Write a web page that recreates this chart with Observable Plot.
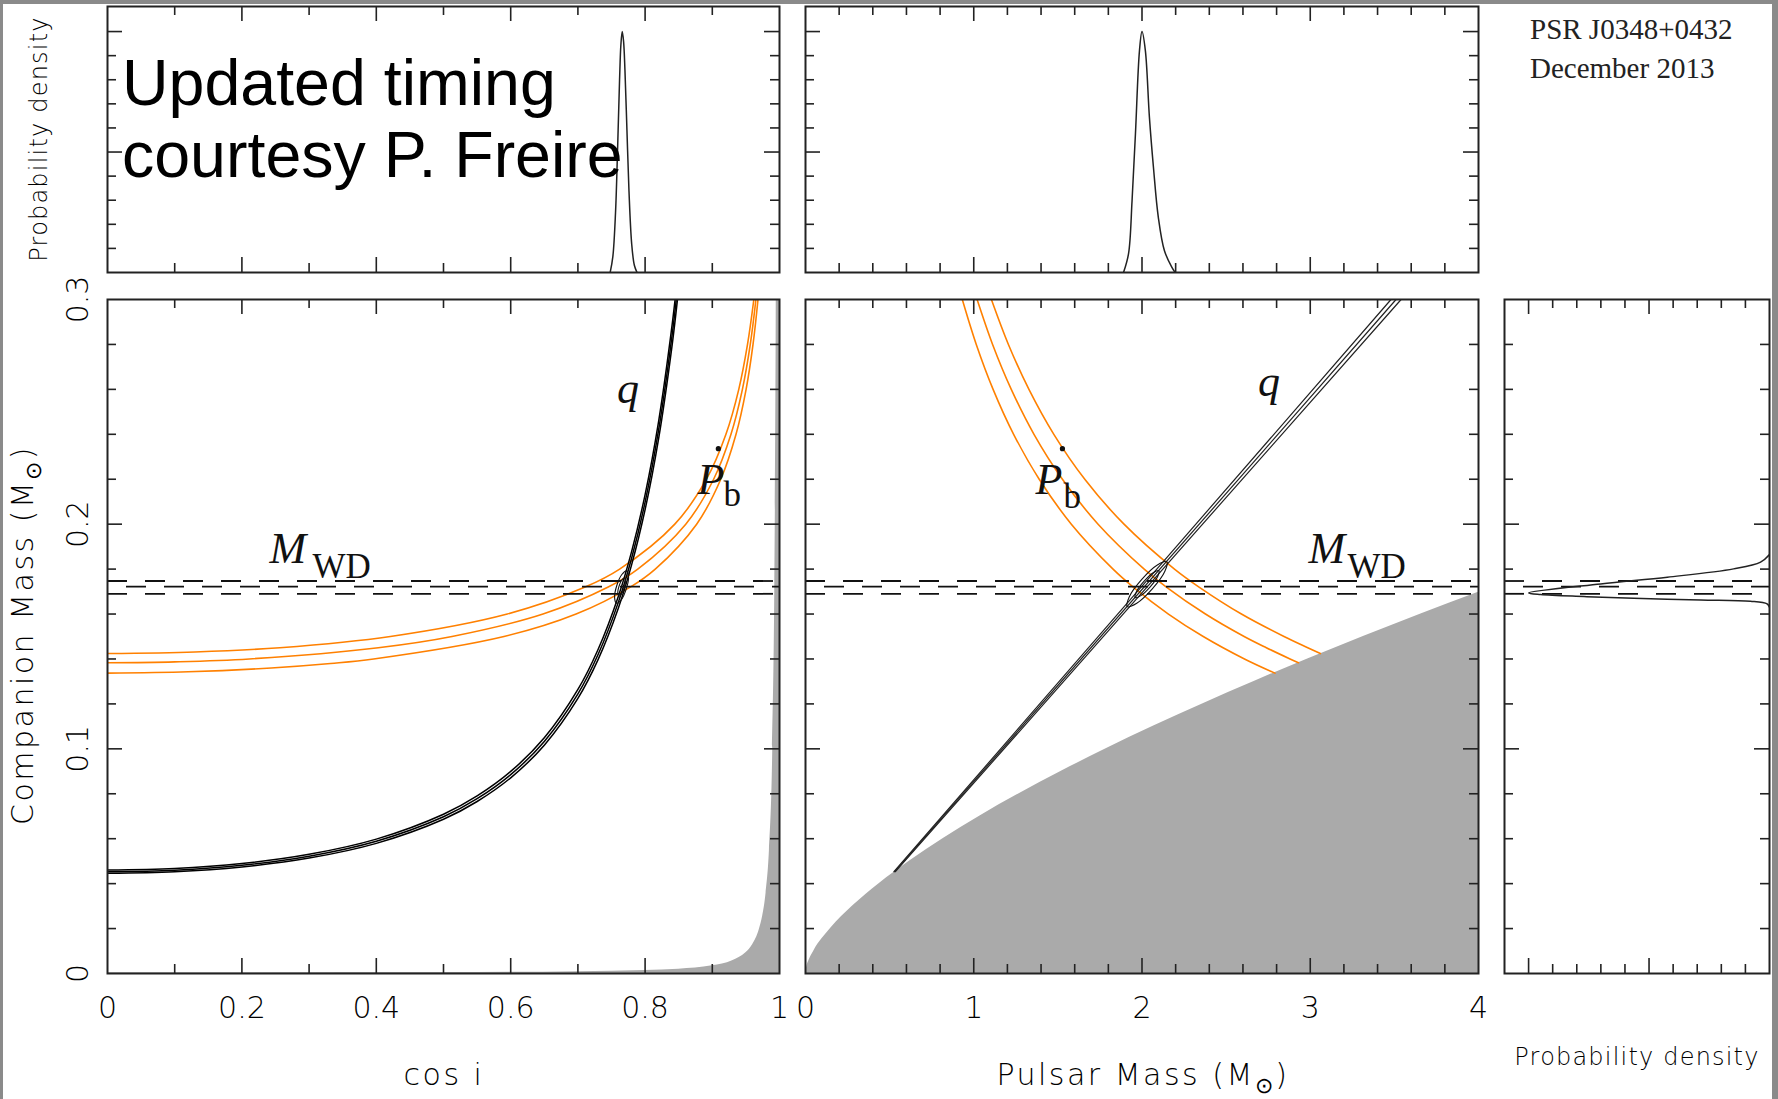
<!DOCTYPE html>
<html>
<head>
<meta charset="utf-8">
<script src="https://cdn.jsdelivr.net/npm/d3@7"></script>
<script src="https://cdn.jsdelivr.net/npm/@observablehq/plot@0.6"></script>
<style>
  html, body { margin: 0; padding: 0; background: #fff; }
  #wrap { position: relative; width: 1778px; height: 1099px; overflow: hidden; background: #fff; }
  .pane { position: absolute; }
  .pane svg { overflow: visible; background: transparent; }
  g[aria-label="ticklabel"] text { letter-spacing: 2.5px; }
  .edge { position: absolute; background: #8a8a8a; }
</style>
</head>
<body>
<div id="wrap"></div>
<script>
// ================= DATA =================
// Tick values and labels
const cosTickVals = [0, 0.2, 0.4, 0.6, 0.8, 1];
const cosTickLabels = ["0", "0.2", "0.4", "0.6", "0.8", "1"];
const mpTickVals = [0, 1, 2, 3, 4];
const mpTickLabels = ["0", "1", "2", "3", "4"];
const mcTickVals = [0, 0.1, 0.2, 0.3];
const mcTickLabels = ["0", "0.1", "0.2", "0.3"];

const cosMinor = [0.1, 0.3, 0.5, 0.7, 0.9];
const cosMajor = [0.2, 0.4, 0.6, 0.8];
const mpMinor = [0.2, 0.4, 0.6, 0.8, 1.2, 1.4, 1.6, 1.8, 2.2, 2.4, 2.6, 2.8, 3.2, 3.4, 3.6, 3.8];
const mpMajor = [1, 2, 3];
const mcMinor = [0.02, 0.04, 0.06, 0.08, 0.12, 0.14, 0.16, 0.18, 0.22, 0.24, 0.26, 0.28];
const mcMajor = [0.1, 0.2];
const pdfMinor = [0.1, 0.2, 0.3, 0.4, 0.6, 0.7, 0.8, 0.9];
const pdfMajor = [0.5, 1.0];

// Top-left: probability density of cos i
const cosiPdfX = [0.748, 0.752, 0.756, 0.759, 0.762, 0.764, 0.766, 0.768, 0.770, 0.773, 0.776, 0.780, 0.784, 0.788];
const cosiPdfY = [0, 0.066, 0.249, 0.506, 0.80, 0.946, 1.0, 0.958, 0.841, 0.589, 0.339, 0.12, 0.03, 0];

// Top-middle: probability density of pulsar mass
const mpPdfX = [1.89, 1.92, 1.941, 1.961, 1.985, 2.0, 2.02, 2.044, 2.068, 2.097, 2.133, 2.177, 2.197];
const mpPdfY = [0, 0.078, 0.299, 0.575, 0.921, 1.0, 0.921, 0.645, 0.437, 0.229, 0.091, 0.022, 0];

// Right: probability density of companion mass (density, Mc)
const mcPdfD = [0, 0.037, 0.149, 0.424, 0.701, 1.0, 0.95, 0.77, 0.564, 0.286, 0.079, 0.01, 0];
const mcPdfM = [0.1865, 0.1831, 0.1801, 0.1764, 0.1734, 0.1694, 0.1687, 0.1678, 0.1670, 0.1663, 0.1657, 0.1645, 0.163];

// White-dwarf mass (optical) : value and 1-sigma limits
const mwdLevels = [0.1747, 0.1722, 0.1690];

// Left panel: mass-ratio (q) curve, cos i vs companion mass
const qCos = [0, 0.1, 0.2, 0.3, 0.4, 0.5, 0.55, 0.6, 0.65, 0.7, 0.73, 0.76, 0.78, 0.8, 0.82, 0.84, 0.849];
const qMc   = [0.04532, 0.04601, 0.04818, 0.05221, 0.05887, 0.06977, 0.0778, 0.08852, 0.10327, 0.12443, 0.14196, 0.16508, 0.18494, 0.20981, 0.2417, 0.2837, 0.3072];
const qMcLo = [0.04460, 0.04527, 0.04741, 0.05137, 0.05793, 0.06865, 0.07656, 0.08710, 0.10162, 0.12244, 0.13969, 0.16244, 0.18198, 0.20645, 0.23783, 0.27916, 0.3023];
const qMcHi = [0.04605, 0.04675, 0.04895, 0.05305, 0.05981, 0.07089, 0.07904, 0.08994, 0.10492, 0.12642, 0.14423, 0.16772, 0.18790, 0.21317, 0.24557, 0.28824, 0.3121];

// Left panel: orbital decay (Pb-dot) curves
const pbL1Cos = [0, 0.12, 0.2436, 0.332, 0.396, 0.59, 0.6973, 0.7779, 0.8151, 0.8767, 0.9126, 0.9353, 0.9503, 0.9606, 0.968];
const pbL1Mc  = [0.1337, 0.1343, 0.136, 0.138, 0.14, 0.15, 0.16, 0.172, 0.18, 0.20, 0.22, 0.24, 0.26, 0.28, 0.30];
const pbL2Cos = [0, 0.1, 0.2111, 0.403, 0.5127, 0.6481, 0.7451, 0.7891, 0.8605, 0.902, 0.9278, 0.9448, 0.9565, 0.9649];
const pbL2Mc  = [0.1383, 0.1387, 0.14, 0.145, 0.15, 0.16, 0.172, 0.18, 0.20, 0.22, 0.24, 0.26, 0.28, 0.30];
const pbL3Cos = [0, 0.13, 0.2564, 0.4209, 0.5949, 0.7107, 0.7621, 0.8442, 0.8913, 0.9203, 0.9394, 0.9524, 0.9618];
const pbL3Mc  = [0.1424, 0.1431, 0.145, 0.15, 0.16, 0.172, 0.18, 0.20, 0.22, 0.24, 0.26, 0.28, 0.30];

// Left panel: excluded region (grey)
const greyLCos = [0, 0.5, 0.7, 0.8, 0.85, 0.9, 0.93, 0.95, 0.96, 0.97, 0.975, 0.98, 0.985, 0.99, 0.993, 0.995, 0.9955, 1.0];
const greyLMc  = [0.0003, 0.0004, 0.0008, 0.0013, 0.0019, 0.0034, 0.0057, 0.0092, 0.0128, 0.0196, 0.0256, 0.0357, 0.0547, 0.1001, 0.1705, 0.282, 0.33, 0.33];

// Left panel: probability contours
const contLOutCos = [0.7726, 0.7754, 0.7721, 0.7647, 0.7574, 0.7546, 0.7579, 0.7654];
const contLOutMc  = [0.1792, 0.1766, 0.1713, 0.1664, 0.1648, 0.1674, 0.1727, 0.1776];
const contLInCos  = [0.7692, 0.7707, 0.7689, 0.7648, 0.7608, 0.7593, 0.7611, 0.7652];
const contLInMc   = [0.1760, 0.1745, 0.1717, 0.1689, 0.1680, 0.1695, 0.1723, 0.1751];

// Middle panel: Pb-dot curves (pulsar mass, companion mass)
const pbM1Mp = [0.932, 1.015, 1.115, 1.237, 1.389, 1.58, 1.828, 1.948, 2.157, 2.364, 2.609, 2.79];
const pbM1Mc = [0.30, 0.28, 0.26, 0.24, 0.22, 0.20, 0.18, 0.172, 0.16, 0.15, 0.14, 0.1337];
const pbM2Mp = [1.02, 1.112, 1.223, 1.358, 1.527, 1.739, 2.013, 2.145, 2.377, 2.607, 2.739, 2.88, 2.93];
const pbM2Mc = [0.30, 0.28, 0.26, 0.24, 0.22, 0.20, 0.18, 0.172, 0.16, 0.15, 0.145, 0.14, 0.1383];
const pbM3Mp = [1.105, 1.206, 1.328, 1.476, 1.66, 1.893, 2.193, 2.339, 2.591, 2.844, 2.985, 3.06];
const pbM3Mc = [0.30, 0.28, 0.26, 0.24, 0.22, 0.20, 0.18, 0.172, 0.16, 0.15, 0.145, 0.1424];

// Middle panel: q lines
const qMidMc   = [0.0453, 0.30];
const qMidMp   = [0.530, 3.510];
const qMidMpLo = [0.5255, 3.480];
const qMidMpHi = [0.5345, 3.540];

// Middle panel: excluded region (grey)
const greyMMp = [0, 0.01, 0.0161, 0.0497, 0.1487, 0.28, 0.4372, 0.617, 0.8168, 1.0348, 1.2698, 1.5207, 1.7865, 2.0664, 2.3598, 2.6662, 2.9849, 3.3157, 3.6579, 4.0];
const greyMMc = [0, 0.0038, 0.005, 0.01, 0.02, 0.03, 0.04, 0.05, 0.06, 0.07, 0.08, 0.09, 0.10, 0.11, 0.12, 0.13, 0.14, 0.15, 0.16, 0.1697];

// Middle panel: probability contours
const contMOutMp = [2.1477, 2.1353, 2.0612, 1.9688, 1.9123, 1.9247, 1.9988, 2.0912];
const contMOutMc = [0.1833, 0.1789, 0.1712, 0.1648, 0.1633, 0.1677, 0.1754, 0.1818];
const contMInMp  = [2.1006, 2.0931, 2.0487, 1.9933, 1.9594, 1.9669, 2.0113, 2.0667];
const contMInMc  = [0.1793, 0.1767, 0.1721, 0.1682, 0.1673, 0.1699, 0.1745, 0.1784];

// Annotations (data coordinates)
const labelsBL = [
  {x: 0.241, y: 0.1825, t: "M", kind: "big"},
  {x: 0.305, y: 0.1762, t: "WD", kind: "sub"},
  {x: 0.758, y: 0.254, t: "q", kind: "big"},
  {x: 0.878, y: 0.2136, t: "P", kind: "big"},
  {x: 0.9167, y: 0.2083, t: "b", kind: "sub"}
];
const dotsBL = [{x: 0.909, y: 0.2336}];
const labelsBM = [
  {x: 2.99, y: 0.1829, t: "M", kind: "big"},
  {x: 3.221, y: 0.1762, t: "WD", kind: "sub"},
  {x: 2.69, y: 0.2572, t: "q", kind: "big"},
  {x: 1.367, y: 0.2136, t: "P", kind: "big"},
  {x: 1.533, y: 0.2074, t: "b", kind: "sub"}
];
const dotsBM = [{x: 1.527, y: 0.2336}];

// ================= DRAWING =================
const wrap = document.getElementById("wrap");
const zip = (xs, ys) => xs.map((x, i) => ({x, y: ys[i]}));
const PAD = 24;
const tickFont = {fontFamily: "DejaVu Sans", fontSize: 30, fontWeight: 200, fill: "#000"};
const SERIF = "Liberation Serif";
const ORANGE = "#ff8000";

function panel(rect, cfg) {
  const [x0, y0, x1, y1] = rect;
  const W = x1 - x0, H = y1 - y0;
  const L1 = 9, L2 = 15;
  const tk = {stroke: "#222", strokeWidth: 1.6};
  const marks = [
    ...cfg.marks,
    Plot.tickX(cfg.xMinor, {x: d => d, insetTop: H - L1, ...tk}),
    Plot.tickX(cfg.xMinor, {x: d => d, insetBottom: H - L1, ...tk}),
    Plot.tickX(cfg.xMajor, {x: d => d, insetTop: H - L2, ...tk}),
    Plot.tickX(cfg.xMajor, {x: d => d, insetBottom: H - L2, ...tk}),
    Plot.tickY(cfg.yMinor, {y: d => d, insetRight: W - L1, ...tk}),
    Plot.tickY(cfg.yMinor, {y: d => d, insetLeft: W - L1, ...tk}),
    Plot.tickY(cfg.yMajor, {y: d => d, insetRight: W - L2, ...tk}),
    Plot.tickY(cfg.yMajor, {y: d => d, insetLeft: W - L2, ...tk}),
    Plot.frame({stroke: "#222", strokeWidth: 2}),
    ...(cfg.labels || [])
  ];
  const svg = Plot.plot({
    width: W + 2 * PAD, height: H + 2 * PAD,
    marginLeft: PAD, marginRight: PAD, marginTop: PAD, marginBottom: PAD,
    x: {domain: cfg.xDomain, reverse: !!cfg.xReverse, axis: null},
    y: {domain: cfg.yDomain, axis: null},
    style: {background: "transparent", overflow: "visible"},
    marks
  });
  const div = document.createElement("div");
  div.className = "pane";
  div.style.left = (x0 - PAD) + "px";
  div.style.top = (y0 - PAD) + "px";
  div.style.width = (W + 2 * PAD) + "px";
  div.appendChild(svg);
  wrap.appendChild(div);
}

function xTickText(vals, labels) {
  return Plot.text(vals, {x: d => d, text: (d, i) => labels[i], frameAnchor: "bottom", dy: 44,
    lineAnchor: "bottom", textAnchor: "middle", ariaLabel: "ticklabel", ...tickFont});
}
function yTickText(vals, labels) {
  return Plot.text(vals, {y: d => d, text: (d, i) => labels[i], frameAnchor: "left", dx: -20, rotate: -90,
    lineAnchor: "bottom", textAnchor: "middle", ariaLabel: "ticklabel", ...tickFont});
}
function dashes() {
  return mwdLevels.map((v, i) => Plot.ruleY([v], {stroke: "#111", strokeWidth: 1.8,
    strokeDasharray: "20,18", strokeDashoffset: i === 1 ? 19 : 0}));
}
function annotations(list, dots) {
  const st = {
    big: {fontStyle: "italic", fontSize: 44},
    sub: {fontStyle: "normal", fontSize: 35}
  };
  return [
    ...list.map(a => Plot.text([a], {x: "x", y: "y", text: "t", textAnchor: "start", lineAnchor: "bottom",
      fontFamily: SERIF, fill: "#111", ...st[a.kind]})),
    Plot.dot(dots, {x: "x", y: "y", r: 2.6, fill: "#111", stroke: null})
  ];
}
const line = (xs, ys, o) => Plot.line(zip(xs, ys), {x: "x", y: "y", clip: true, ...o});

// ---- Top-left
panel([107, 6, 779, 272], {
  xDomain: [0, 1], yDomain: [0, 1.104],
  xMinor: cosMinor, xMajor: cosMajor, yMinor: pdfMinor, yMajor: pdfMajor,
  marks: [line(cosiPdfX, cosiPdfY, {stroke: "#222", strokeWidth: 1.5, curve: "catmull-rom"})]
});
// ---- Top-middle
panel([805, 6, 1478, 272], {
  xDomain: [0, 4], yDomain: [0, 1.104],
  xMinor: mpMinor, xMajor: mpMajor, yMinor: pdfMinor, yMajor: pdfMajor,
  marks: [line(mpPdfX, mpPdfY, {stroke: "#222", strokeWidth: 1.5, curve: "catmull-rom"})]
});
// ---- Bottom-left
panel([107, 299, 779, 973], {
  xDomain: [0, 1], yDomain: [0, 0.3],
  xMinor: cosMinor, xMajor: cosMajor, yMinor: mcMinor, yMajor: mcMajor,
  marks: [
    Plot.areaY(zip(greyLCos, greyLMc), {x: "x", y: "y", fill: "#aaaaaa", curve: "monotone-x", clip: true}),
    line(pbL1Cos, pbL1Mc, {stroke: ORANGE, strokeWidth: 1.6, curve: "catmull-rom"}),
    line(pbL2Cos, pbL2Mc, {stroke: ORANGE, strokeWidth: 1.6, curve: "catmull-rom"}),
    line(pbL3Cos, pbL3Mc, {stroke: ORANGE, strokeWidth: 1.6, curve: "catmull-rom"}),
    line(qCos, qMcLo, {stroke: "#000", strokeWidth: 1.5, curve: "catmull-rom"}),
    line(qCos, qMc, {stroke: "#000", strokeWidth: 1.5, curve: "catmull-rom"}),
    line(qCos, qMcHi, {stroke: "#000", strokeWidth: 1.5, curve: "catmull-rom"}),
    line(contLOutCos, contLOutMc, {stroke: "#111", strokeWidth: 1.1, curve: "catmull-rom-closed"}),
    line(contLInCos, contLInMc, {stroke: "#111", strokeWidth: 1.1, curve: "catmull-rom-closed"}),
    ...dashes()
  ],
  labels: [xTickText(cosTickVals, cosTickLabels), yTickText(mcTickVals, mcTickLabels), ...annotations(labelsBL, dotsBL)]
});
// ---- Bottom-middle
panel([805, 299, 1478, 973], {
  xDomain: [0, 4], yDomain: [0, 0.3],
  xMinor: mpMinor, xMajor: mpMajor, yMinor: mcMinor, yMajor: mcMajor,
  marks: [
    Plot.areaY(zip(greyMMp, greyMMc), {x: "x", y: "y", fill: "#aaaaaa", curve: "monotone-x", clip: true}),
    line(pbM1Mp, pbM1Mc, {stroke: ORANGE, strokeWidth: 1.6, curve: "catmull-rom"}),
    line(pbM2Mp, pbM2Mc, {stroke: ORANGE, strokeWidth: 1.6, curve: "catmull-rom"}),
    line(pbM3Mp, pbM3Mc, {stroke: ORANGE, strokeWidth: 1.6, curve: "catmull-rom"}),
    line(qMidMpLo, qMidMc, {stroke: "#222", strokeWidth: 1.2}),
    line(qMidMp, qMidMc, {stroke: "#222", strokeWidth: 1.2}),
    line(qMidMpHi, qMidMc, {stroke: "#222", strokeWidth: 1.2}),
    line(contMOutMp, contMOutMc, {stroke: "#111", strokeWidth: 1.1, curve: "catmull-rom-closed"}),
    line(contMInMp, contMInMc, {stroke: "#111", strokeWidth: 1.1, curve: "catmull-rom-closed"}),
    ...dashes()
  ],
  labels: [xTickText(mpTickVals, mpTickLabels), ...annotations(labelsBM, dotsBM)]
});
// ---- Bottom-right (density of companion mass, density axis reversed)
panel([1504, 299, 1769, 973], {
  xDomain: [0, 1.1], xReverse: true, yDomain: [0, 0.3],
  xMinor: pdfMinor, xMajor: pdfMajor, yMinor: mcMinor, yMajor: mcMajor,
  marks: [
    ...dashes(),
    line(mcPdfD, mcPdfM, {stroke: "#222", strokeWidth: 1.5, curve: "catmull-rom"})
  ]
});

// ---- Overlay texts (titles, axis labels)
const ov = d3.select(wrap).append("svg")
  .attr("width", 1778).attr("height", 1099)
  .style("position", "absolute").style("left", 0).style("top", 0)
  .style("pointer-events", "none");

const bigSans = "Liberation Sans, Arial, sans-serif";
ov.append("text").attr("x", 122).attr("y", 105).attr("font-family", bigSans).attr("font-size", 64.5).attr("fill", "#000").text("Updated timing");
ov.append("text").attr("x", 122).attr("y", 177).attr("font-family", bigSans).attr("font-size", 64.5).attr("fill", "#000").text("courtesy P. Freire");

ov.append("text").attr("x", 1530).attr("y", 39).attr("font-family", SERIF).attr("font-size", 29).attr("fill", "#222").text("PSR J0348+0432");
ov.append("text").attr("x", 1530).attr("y", 78).attr("font-family", SERIF).attr("font-size", 29).attr("fill", "#222").text("December 2013");

function hershey(sel, size) {
  return sel.attr("font-family", "DejaVu Sans").attr("font-weight", 200).attr("font-size", size)
    .attr("fill", "#000").style("letter-spacing", size >= 30 ? "2.5px" : "1.2px");
}
hershey(ov.append("text"), 30).attr("x", 444).attr("y", 1085).attr("text-anchor", "middle").text("cos i");

const pm = hershey(ov.append("text"), 30).attr("x", 1143).attr("y", 1085).attr("text-anchor", "middle");
pm.append("tspan").text("Pulsar Mass (M");
pm.append("tspan").attr("dy", 8).attr("font-size", 22).text("\u2299");
pm.append("tspan").attr("dy", -8).text(")");

const cm = hershey(ov.append("text"), 30).attr("transform", "translate(33,635) rotate(-90)").attr("text-anchor", "middle");
cm.append("tspan").text("Companion Mass (M");
cm.append("tspan").attr("dy", 8).attr("font-size", 22).text("\u2299");
cm.append("tspan").attr("dy", -8).text(")");

hershey(ov.append("text"), 24).attr("transform", "translate(47,139) rotate(-90)").attr("text-anchor", "middle").text("Probability density");
hershey(ov.append("text"), 24).attr("x", 1637).attr("y", 1065).attr("text-anchor", "middle").text("Probability density");

// ---- grey picture edges
[["0px", "0px", "1778px", "4px"], ["0px", "0px", "3px", "1099px"], ["1772px", "0px", "6px", "1099px"]].forEach(([l, t, w, h]) => {
  const e = document.createElement("div");
  e.className = "edge";
  Object.assign(e.style, {left: l, top: t, width: w, height: h});
  wrap.appendChild(e);
});
</script>
</body>
</html>
